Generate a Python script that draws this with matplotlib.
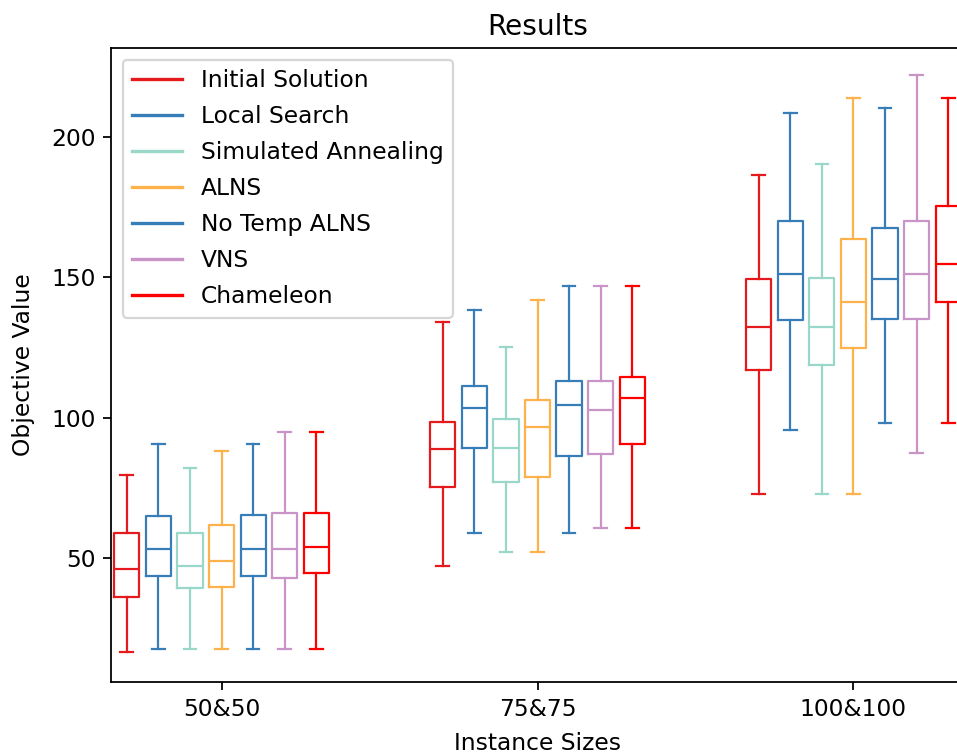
import numpy as np
import matplotlib
matplotlib.use('Agg')
import matplotlib.pyplot as plt
from matplotlib.lines import Line2D

GROUPS  = ['50&50', '75&75', '100&100']
METHODS = ['Initial Solution', 'Local Search', 'Simulated Annealing', 'ALNS',
           'No Temp ALNS', 'VNS', 'Chameleon']
COLORS  = ['#e41a1c', '#377eb8', '#99d8c9', '#feb24c', '#377eb8', '#c994c7', '#ff0000']

# box statistics, one row per method, one column per group
WHISLO = [
    [16.6, 47.3, 72.8],
    [17.5, 58.8, 95.5],
    [17.5, 52.0, 72.8],
    [17.5, 52.0, 72.8],
    [17.5, 58.8, 98.0],
    [17.5, 60.7, 87.5],
    [17.5, 60.7, 98.0],
]
Q1 = [
    [36.2, 75.2, 116.8],
    [43.6, 89.3, 134.8],
    [39.2, 77.2, 118.8],
    [39.8, 78.9, 124.8],
    [43.6, 86.4, 135.3],
    [42.8, 87.1, 135.3],
    [44.5, 90.6, 141.2],
]
MED = [
    [46.0, 88.7, 132.2],
    [53.3, 103.5, 151.1],
    [47.3, 89.3, 132.2],
    [49.0, 96.7, 141.3],
    [53.3, 104.6, 149.3],
    [53.3, 102.7, 151.1],
    [54.0, 107.1, 154.8],
]
Q3 = [
    [58.8, 98.4, 149.3],
    [65.0, 111.3, 169.9],
    [58.8, 99.6, 149.8],
    [61.9, 106.4, 163.8],
    [65.4, 113.2, 167.5],
    [66.1, 113.2, 169.9],
    [66.1, 114.3, 175.4],
]
WHISHI = [
    [79.6, 134.0, 186.5],
    [90.6, 138.3, 208.6],
    [82.0, 125.3, 190.2],
    [88.1, 141.8, 214.0],
    [90.6, 146.8, 210.4],
    [94.9, 146.8, 222.1],
    [94.9, 146.8, 214.0],
]

plt.rcParams.update({
    'font.size':      10.5,
    'axes.titlesize': 12.6,
    'axes.labelsize': 10.5,
})

DPI = 160
fig = plt.figure(figsize=(957 / DPI, 754 / DPI), dpi=DPI)
# axes runs slightly past the right edge, as in the cropped original
ax = fig.add_axes([111 / 957, 72 / 754, 853 / 957, 634 / 754])

x = np.arange(len(GROUPS))
step, width = 0.1, 0.08

for i, (name, col) in enumerate(zip(METHODS, COLORS)):
    stats = []
    for g in range(len(GROUPS)):
        stats.append(dict(whislo=WHISLO[i][g], q1=Q1[i][g], med=MED[i][g],
                          q3=Q3[i][g], whishi=WHISHI[i][g], fliers=[]))
    props = dict(color=col, linewidth=1.0)
    ax.bxp(stats, positions=x + (i - 3) * step, widths=width,
           boxprops=props, medianprops=props, whiskerprops=props,
           capprops=props, showfliers=False, manage_ticks=False)

ax.set_xticks(x)
ax.set_xticklabels(GROUPS)
ax.set_xlim(-0.35, 2.35)
ax.set_ylim(5.8, 231.7)
ax.set_yticks([50, 100, 150, 200])
ax.set_xlabel('Instance Sizes', labelpad=5)
ax.set_ylabel('Objective Value', labelpad=7)
ax.set_title('Results', pad=6)

handles = [Line2D([], [], color=c, lw=1.5) for c in COLORS]
ax.legend(handles, METHODS, loc='upper left', labelspacing=0.56,
          handlelength=2.15)

fig.savefig('out.png', dpi=DPI)
